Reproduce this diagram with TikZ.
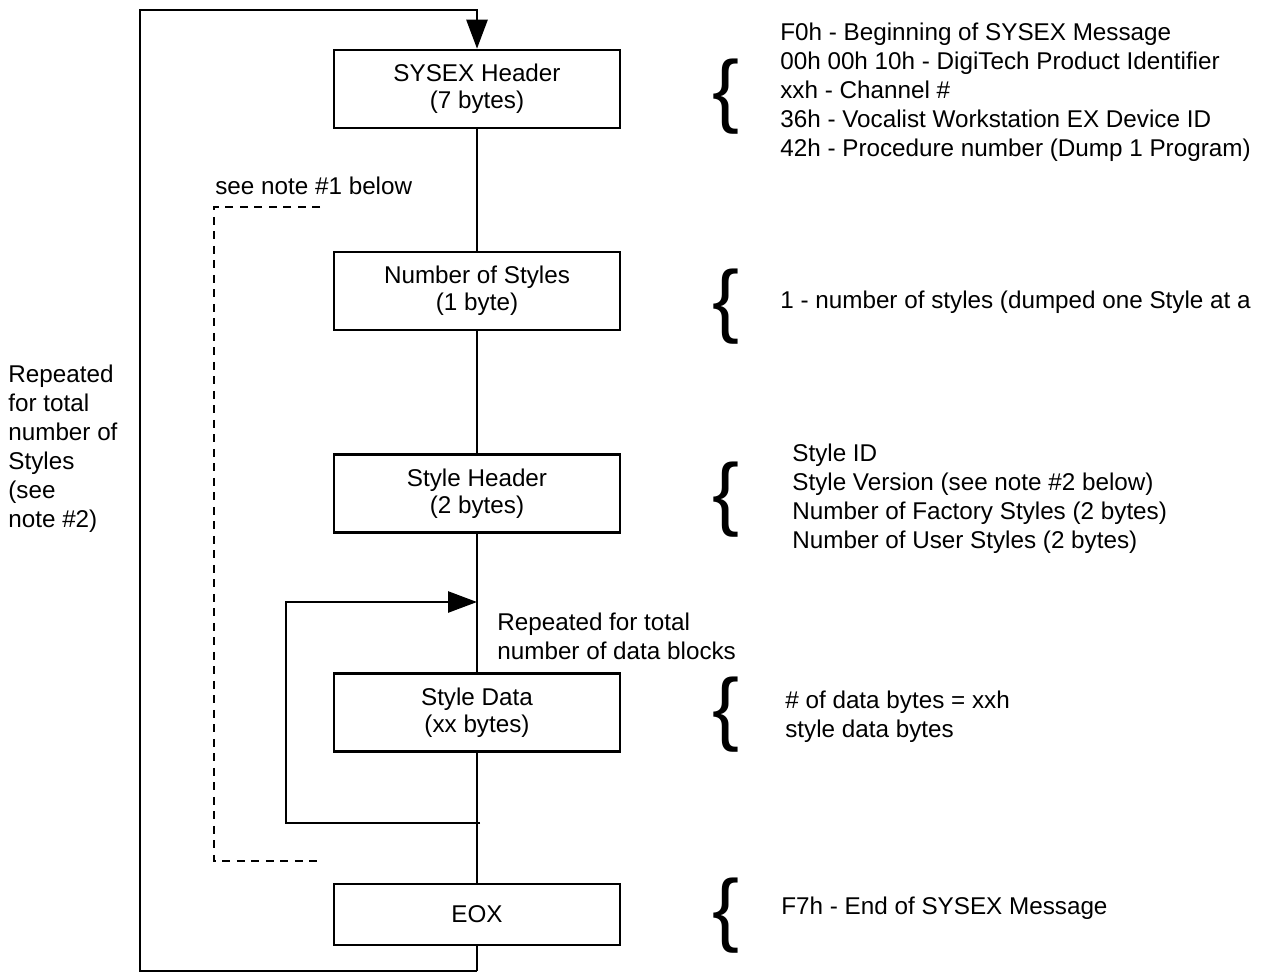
\documentclass[tikz,border=0pt]{standalone}
\usepackage{fontspec}
\setmainfont{Liberation Sans}
\usetikzlibrary{arrows.meta,positioning}

\begin{document}
\begin{tikzpicture}[
      x=0.02cm, y=-0.02cm,
      block/.style={
         rectangle,
         draw, line width=1.5pt,
         minimum width=5.72cm,
         minimum height=1.56cm,
         align=center,
         font=\fontsize{13.8}{15.5}\selectfont
      },
      remark/.style={
         anchor=west, align=left, inner sep=0pt,
         font=\fontsize{13.8}{16.5}\selectfont
      },
      curly/.style={
         inner sep=0pt,
         font=\fontsize{46}{46}\selectfont
      },
      flow/.style={line width=1.5pt},
      tip/.style={-{Triangle[length=0.58cm,width=0.42cm]}},
      loop back/.style={line width=1.5pt, dash pattern=on 0.16cm off 0.13cm},
    ]
    \useasboundingbox (0,0) rectangle (1266,974);

    % the message blocks
    \node (sysex) [block] at (477,89) {SYSEX Header\\(7 bytes)};
    \node (nstyles) [block] at (477,291) {Number of Styles\\(1 byte)};
    \node (sthdr) [block] at (477,493.5) {Style Header\\(2 bytes)};
    \node (stdata) [block] at (477,712.5) {Style Data\\(xx bytes)};
    \node (eox) [block, minimum height=1.22cm] at (477,914.5) {EOX};

    % braces and descriptions
    \node (b1) [curly] at (726,97) {\{};
    \node (t1) [remark] at (780,92.5) {F0h - Beginning of SYSEX Message\\
       00h 00h 10h - DigiTech Product Identifier\\
       xxh - Channel \#\\
       36h - Vocalist Workstation EX Device ID\\
       42h - Procedure number (Dump 1 Program)};
    \node (b2) [curly] at (726,307) {\{};
    \node (t2) [remark] at (780,302) {1 - number of styles (dumped one Style at a};
    \node (b3) [curly] at (726,500) {\{};
    \node (t3) [remark] at (792,498.5) {Style ID\\
       Style Version (see note \#2 below)\\
       Number of Factory Styles (2 bytes)\\
       Number of User Styles (2 bytes)};
    \node (b4) [curly] at (726,715) {\{};
    \node (t4) [remark] at (785,716.5) {\# of data bytes = xxh\\style data bytes};
    \node (b5) [curly] at (726,915.5) {\{};
    \node (t5) [remark] at (781,908) {F7h - End of SYSEX Message};

    % loop notes
    \node (outer note) [remark] at (8,448.5) {Repeated\\for total\\number of\\Styles\\(see\\note \#2)};
    \node (dash note) [remark] at (215,186) {see note \#1 below};
    \node (inner note) [remark] at (497,636) {Repeated for total\\number of data blocks};

    % corner points
    \coordinate (o1) at (477,10);
    \coordinate (o2) at (140,10);
    \coordinate (o3) at (140,971);
    \coordinate (o4) at (477,971);
    \coordinate (i1) at (477,602);
    \coordinate (i2) at (286,602);
    \coordinate (i3) at (286,823);
    \coordinate (i4) at (480,823);
    \coordinate (d1) at (320,207);
    \coordinate (d2) at (214,207);
    \coordinate (d3) at (214,861);
    \coordinate (d4) at (321,861);

    % main flow
    \draw [flow] (sysex) -- (nstyles) -- (sthdr) -- (stdata) -- (eox) -- (o4);
    \draw [flow, tip] (o4) -- (o3) -- (o2) -- (o1) -- (sysex);
    \draw [flow, tip] (i4) -- (i3) -- (i2) -- (i1);
    \draw [loop back] (d1) -- (d2) -- (d3) -- (d4);
\end{tikzpicture}
\end{document}
